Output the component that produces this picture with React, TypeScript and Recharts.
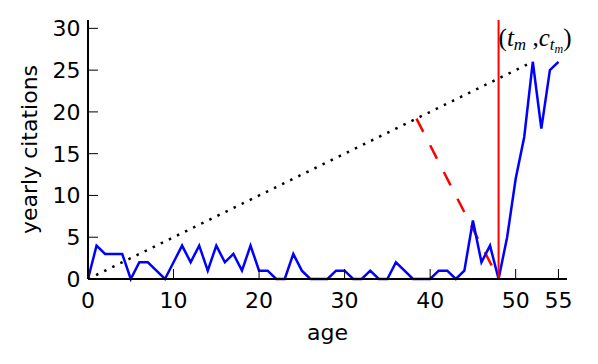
import { ComposedChart, Line, XAxis, YAxis, ReferenceLine, ReferenceDot } from 'recharts';

// yearly citations per age 0..55
const citations = [
  0, 4, 3, 3, 3, 0, 2, 2, 1, 0, 2, 4, 2, 4, 1, 4, 2, 3, 1, 4,
  1, 1, 0, 0, 3, 1, 0, 0, 0, 1, 1, 0, 0, 1, 0, 0, 2, 1, 0, 0,
  0, 1, 1, 0, 1, 7, 2, 4, 0, 5, 12, 17, 26, 18, 25, 26,
];
const xTicks = [0, 10, 20, 30, 40, 50, 55];
const yTicks = [0, 5, 10, 15, 20, 25, 30];
const peakLine = [
  { x: 0, y: 0 },
  { x: 52, y: 26 },
];
const dropLine = [
  { x: 38.4, y: 19.2 },
  { x: 48, y: 0 },
];
const tm = 48;
const annotationPos = { x: 48, y: 27.9 };

const series = citations.map((c, i) => ({ x: i, y: c }));

const FONT = '"DejaVu Sans", sans-serif';
const FS = 22;

function XTick({ x, y, payload }: any) {
  return (
    <g>
      <line x1={x} x2={x} y1={y} y2={y - 10} stroke="#000" strokeWidth={1} />
      <text x={x} y={y + 29} textAnchor="middle" fontSize={FS} fontFamily={FONT} fill="#000">
        {payload.value}
      </text>
    </g>
  );
}

function YTick({ x, y, payload }: any) {
  return (
    <g>
      <line x1={x} x2={x + 10} y1={y} y2={y} stroke="#000" strokeWidth={1} />
      <text x={x - 7.5} y={y + 8} textAnchor="end" fontSize={FS} fontFamily={FONT} fill="#000">
        {payload.value}
      </text>
    </g>
  );
}

function Annotation({ cx, cy }: any) {
  const serif = '"Liberation Serif", serif';
  return (
    <text x={cx} y={cy} fontSize={25} fontFamily={serif} fill="#000">
      <tspan>(</tspan>
      <tspan fontStyle="italic">t</tspan>
      <tspan fontStyle="italic" fontSize={17} dy={4}>m</tspan>
      <tspan dy={-4}> ,</tspan>
      <tspan fontStyle="italic">c</tspan>
      <tspan fontStyle="italic" fontSize={17} dy={4}>t</tspan>
      <tspan fontStyle="italic" fontSize={12} dy={3}>m</tspan>
      <tspan dy={-7}>)</tspan>
    </text>
  );
}

export default function App() {
  return (
    <div style={{ position: 'absolute', left: 0, top: 0, background: '#fff' }}>
      <ComposedChart width={598} height={364} margin={{ top: 20, right: 31, bottom: 0, left: 8 }}>
        <XAxis
          type="number"
          dataKey="x"
          domain={[0, 56]}
          ticks={xTicks}
          interval={0}
          tickSize={0}
          tickMargin={0}
          tickLine={false}
          tick={<XTick />}
          height={85}
          axisLine={{ stroke: '#000', strokeWidth: 2 }}
          label={{
            content: ({ viewBox }: any) => (
              <text
                x={viewBox.x + viewBox.width / 2}
                y={viewBox.y + 61}
                textAnchor="middle"
                fontSize={FS}
                fontFamily={FONT}
                fill="#000"
              >
                age
              </text>
            ),
          }}
        />
        <YAxis
          type="number"
          domain={[0, 31]}
          ticks={yTicks}
          interval={0}
          tickSize={0}
          tickMargin={0}
          tickLine={false}
          tick={<YTick />}
          width={80}
          axisLine={{ stroke: '#000', strokeWidth: 2 }}
          label={{
            content: ({ viewBox }: any) => {
              const cx = viewBox.x + 21;
              const cy = viewBox.y + viewBox.height / 2;
              return (
                <text
                  x={cx}
                  y={cy}
                  transform={`rotate(-90 ${cx} ${cy})`}
                  textAnchor="middle"
                  dominantBaseline="central"
                  fontSize={FS}
                  fontFamily={FONT}
                  fill="#000"
                >
                  yearly citations
                </text>
              );
            },
          }}
        />
        <Line
          data={peakLine}
          dataKey="y"
          stroke="#000"
          strokeWidth={2.5}
          strokeDasharray="2.5 6.5"
          dot={false}
          activeDot={false}
          isAnimationActive={false}
        />
        <Line
          data={dropLine}
          dataKey="y"
          stroke="#ff0000"
          strokeWidth={2.5}
          strokeDasharray="15 15"
          dot={false}
          activeDot={false}
          isAnimationActive={false}
        />
        <Line
          data={series}
          dataKey="y"
          stroke="#0000ff"
          strokeWidth={2.5}
          dot={false}
          activeDot={false}
          isAnimationActive={false}
        />
        <ReferenceLine x={tm} stroke="#ff0000" strokeWidth={2} />
        <ReferenceDot
          x={annotationPos.x}
          y={annotationPos.y}
          r={0}
          shape={(p: any) => <Annotation {...p} />}
        />
      </ComposedChart>
    </div>
  );
}
